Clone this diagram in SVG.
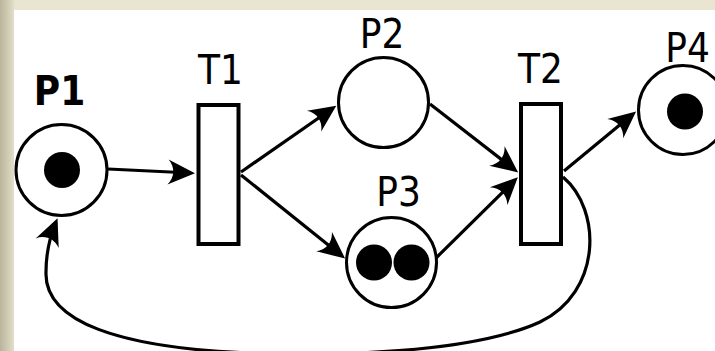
<svg xmlns="http://www.w3.org/2000/svg" width="715" height="351" viewBox="0 0 715 351">
  <defs>
    <linearGradient id="frameLeft" x1="0" y1="0" x2="1" y2="0">
      <stop offset="0" stop-color="#b9b49a"/>
      <stop offset="1" stop-color="#e2dec8"/>
    </linearGradient>
    <marker id="arrow" markerUnits="userSpaceOnUse" markerWidth="40" markerHeight="40" viewBox="-30 -15 40 30" refX="0" refY="0" orient="auto" overflow="visible">
      <path d="M4,0 L-23,-12.5 C-16,-5 -16,5 -23,12.5 Z" fill="#000"/>
    </marker>
  </defs>
  <style>
    .place { fill: #fff; stroke: #000; stroke-width: 3; }
    .trans { fill: #fff; stroke: #000; stroke-width: 4; }
    .token { fill: #000; }
    .arc { fill: none; stroke: #000; stroke-width: 3.2; marker-end: url(#arrow); }
    .lbl { font-family: "DejaVu Sans Condensed", "DejaVu Sans", sans-serif; font-stretch: condensed; font-size: 40px; fill: #000; text-anchor: middle; }
    .bold { font-weight: bold; }
  </style>

  <!-- frame -->
  <rect x="0" y="0" width="715" height="351" fill="#e9e5d1"/>
  <rect x="0" y="0" width="14" height="351" fill="url(#frameLeft)"/>
  <rect x="14" y="10" width="701" height="341" fill="#fff"/>

  <!-- arcs -->
  <g id="connectors">
    <path class="arc" d="M108,169 L191,173"/>
    <path class="arc" d="M241,172 L333,108"/>
    <path class="arc" d="M241,175 L342,256"/>
    <path class="arc" d="M430,104 L515,170"/>
    <path class="arc" d="M436,258 L515,180"/>
    <path class="arc" d="M564,171 L633,114"/>
    <path class="arc" d="M563,177 C602,210 602,292 540,322 C470,354 330,356 250,353 C120,348 44,322 46,272 C46,252 51,234 56,222"/>
  </g>

  <g id="P1">
    <circle class="place" cx="61.5" cy="170" r="45.5"/>
    <circle class="token" cx="62" cy="170" r="18"/>
    <text class="lbl bold" x="59.5" y="105">P1</text>
  </g>
  <g id="T1">
    <rect class="trans" x="198.5" y="105" width="40" height="139"/>
    <text class="lbl" x="220.5" y="84">T1</text>
  </g>
  <g id="P2">
    <circle class="place" cx="383.5" cy="102.5" r="45"/>
    <text class="lbl" x="382" y="48">P2</text>
  </g>
  <g id="P3">
    <circle class="place" cx="391.5" cy="262.5" r="45"/>
    <circle class="token" cx="374" cy="262.5" r="18"/>
    <circle class="token" cx="411.5" cy="262.5" r="18"/>
    <text class="lbl" x="398.5" y="206">P3</text>
  </g>
  <g id="T2">
    <rect class="trans" x="521" y="104" width="40" height="140"/>
    <text class="lbl" x="540.5" y="83">T2</text>
  </g>
  <g id="P4">
    <circle class="place" cx="683" cy="110" r="44.5"/>
    <circle class="token" cx="685" cy="111.5" r="18"/>
    <text class="lbl" x="687.5" y="62">P4</text>
  </g>
</svg>
